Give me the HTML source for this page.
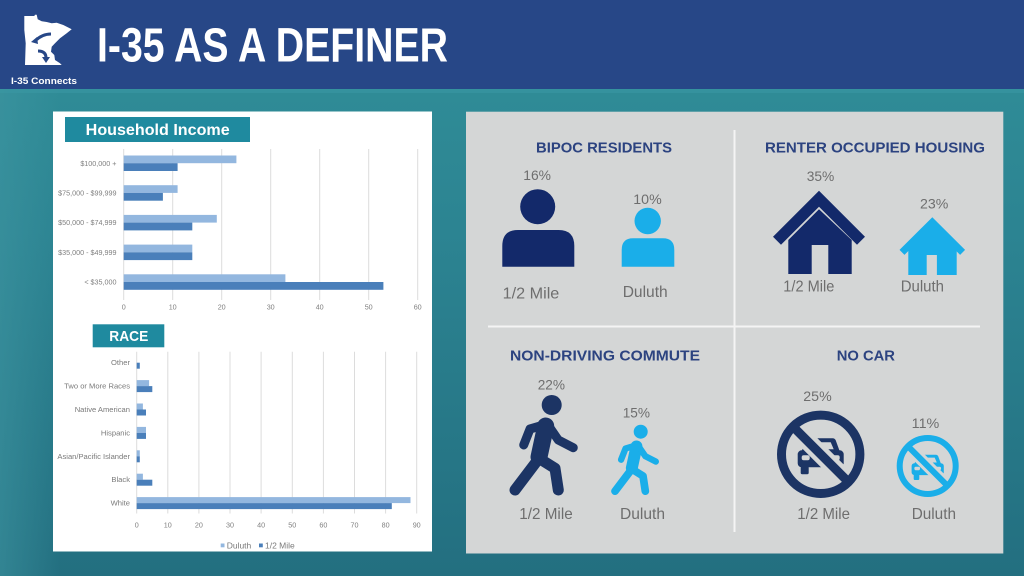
<!DOCTYPE html>
<html><head><meta charset="utf-8"><style>
html,body{margin:0;padding:0;width:1024px;height:576px;overflow:hidden;background:#2a8090}
svg{display:block}
text{font-family:"Liberation Sans",Arial,sans-serif}
</style></head><body>
<svg width="1024" height="576" viewBox="0 0 1024 576" xmlns="http://www.w3.org/2000/svg">
<defs>
<linearGradient id="bg" x1="0" y1="0" x2="0" y2="1">
<stop offset="0" stop-color="#319099"/><stop offset="0.4" stop-color="#2c8492"/><stop offset="1" stop-color="#236f80"/>
</linearGradient>
<linearGradient id="bgl" x1="0" y1="0" x2="1" y2="0">
<stop offset="0" stop-color="#3f96a2" stop-opacity="0.55"/><stop offset="1" stop-color="#3f96a2" stop-opacity="0"/>
</linearGradient>
</defs>
<rect x="0" y="0" width="1024" height="576" fill="url(#bg)"/>
<rect x="0" y="89" width="60" height="487" fill="url(#bgl)"/>
<rect x="0" y="89" width="1024" height="4" fill="#3b97a3" opacity="0.6"/>
<!-- header -->
<rect x="0" y="0" width="1024" height="89" fill="#274787"/>
<polygon fill="#fff" points="24.3,16 34.3,16 35,14.7 36.7,14.7 37.7,19.3 41.7,21.3 46.7,22 51.7,23.3 56.7,22.7 63.3,25 71.7,29.3 66.7,33.3 60,38.3 55,43.3 51.7,46.7 51,51.7 54.3,55 55,60 60,63.3 61.7,65 25,65 25.7,43.3 24.3,30"/>
<path d="M51,34 Q42,34 35,41" stroke="#274787" stroke-width="3" fill="none"/>
<polygon points="31,42 37,37 38,44" fill="#274787"/>
<path d="M38,51 Q46,51 46,58" stroke="#274787" stroke-width="3" fill="none"/>
<polygon points="46,63 42,57 50,57" fill="#274787"/>
<text x="11" y="84" font-size="9.5" font-weight="bold" fill="#fff" textLength="66" lengthAdjust="spacingAndGlyphs">I-35 Connects</text>
<text x="97" y="61.7" font-size="48" font-weight="bold" fill="#fff" textLength="351" lengthAdjust="spacingAndGlyphs">I-35 AS A DEFINER</text>

<!-- white panel -->
<rect x="53" y="111.5" width="379" height="440" fill="#fff"/>
<rect x="65" y="117" width="185" height="25" fill="#1f8a9f"/>
<text x="85.7" y="134.8" font-size="16" font-weight="bold" fill="#fff" textLength="144" lengthAdjust="spacingAndGlyphs">Household Income</text>
<g stroke="#dcdcdc" stroke-width="1">
<line x1="123.7" y1="149" x2="123.7" y2="300"/><line x1="172.7" y1="149" x2="172.7" y2="300"/><line x1="221.7" y1="149" x2="221.7" y2="300"/><line x1="270.7" y1="149" x2="270.7" y2="300"/><line x1="319.7" y1="149" x2="319.7" y2="300"/><line x1="368.7" y1="149" x2="368.7" y2="300"/><line x1="417.7" y1="149" x2="417.7" y2="300"/>
</g>
<g fill="#93b7df">
<rect x="123.7" y="155.5" width="112.7" height="7.7"/><rect x="123.7" y="185.2" width="53.9" height="7.7"/><rect x="123.7" y="214.9" width="93.1" height="7.7"/><rect x="123.7" y="244.6" width="68.6" height="7.7"/><rect x="123.7" y="274.3" width="161.7" height="7.7"/>
</g>
<g fill="#4a7fba">
<rect x="123.7" y="163.2" width="53.9" height="7.8"/><rect x="123.7" y="192.9" width="39.2" height="7.8"/><rect x="123.7" y="222.6" width="68.6" height="7.8"/><rect x="123.7" y="252.3" width="68.6" height="7.8"/><rect x="123.7" y="282" width="259.7" height="7.8"/>
</g>
<g font-size="7.2" fill="#808080" text-anchor="end">
<text x="116.5" y="165.8">$100,000 +</text><text x="116.5" y="195.5">$75,000 - $99,999</text><text x="116.5" y="225.2">$50,000 - $74,999</text><text x="116.5" y="254.9">$35,000 - $49,999</text><text x="116.5" y="284.6">&lt; $35,000</text>
</g>
<g font-size="7.2" fill="#808080" text-anchor="middle">
<text x="123.7" y="309.5">0</text><text x="172.7" y="309.5">10</text><text x="221.7" y="309.5">20</text><text x="270.7" y="309.5">30</text><text x="319.7" y="309.5">40</text><text x="368.7" y="309.5">50</text><text x="417.7" y="309.5">60</text>
</g>

<rect x="92.7" y="324.3" width="71.6" height="23" fill="#1f8a9f"/>
<text x="109.3" y="341" font-size="15" font-weight="bold" fill="#fff" textLength="39" lengthAdjust="spacingAndGlyphs">RACE</text>
<g stroke="#dcdcdc" stroke-width="1">
<line x1="136.7" y1="351.7" x2="136.7" y2="513.5"/><line x1="167.8" y1="351.7" x2="167.8" y2="513.5"/><line x1="198.9" y1="351.7" x2="198.9" y2="513.5"/><line x1="230" y1="351.7" x2="230" y2="513.5"/><line x1="261.1" y1="351.7" x2="261.1" y2="513.5"/><line x1="292.3" y1="351.7" x2="292.3" y2="513.5"/><line x1="323.4" y1="351.7" x2="323.4" y2="513.5"/><line x1="354.5" y1="351.7" x2="354.5" y2="513.5"/><line x1="385.6" y1="351.7" x2="385.6" y2="513.5"/><line x1="416.7" y1="351.7" x2="416.7" y2="513.5"/>
</g>
<g fill="#93b7df">
<rect x="136.7" y="380.1" width="12.4" height="6"/><rect x="136.7" y="403.5" width="6.2" height="6"/><rect x="136.7" y="426.9" width="9.3" height="6"/><rect x="136.7" y="450.3" width="3.1" height="6"/><rect x="136.7" y="473.7" width="6.2" height="6"/><rect x="136.7" y="497.1" width="273.8" height="6"/>
</g>
<g fill="#4a7fba">
<rect x="136.7" y="362.7" width="3.1" height="6"/><rect x="136.7" y="386.1" width="15.6" height="6"/><rect x="136.7" y="409.5" width="9.3" height="6"/><rect x="136.7" y="432.9" width="9.3" height="6"/><rect x="136.7" y="456.3" width="3.1" height="6"/><rect x="136.7" y="479.7" width="15.6" height="6"/><rect x="136.7" y="503.1" width="255.1" height="6"/>
</g>
<g font-size="7.6" fill="#7a7a7a" text-anchor="end">
<text x="130" y="365.2">Other</text><text x="130" y="388.6">Two or More Races</text><text x="130" y="412">Native American</text><text x="130" y="435.4">Hispanic</text><text x="130" y="458.8">Asian/Pacific Islander</text><text x="130" y="482.2">Black</text><text x="130" y="505.6">White</text>
</g>
<g font-size="7.2" fill="#808080" text-anchor="middle">
<text x="136.7" y="527.5">0</text><text x="167.8" y="527.5">10</text><text x="198.9" y="527.5">20</text><text x="230" y="527.5">30</text><text x="261.1" y="527.5">40</text><text x="292.3" y="527.5">50</text><text x="323.4" y="527.5">60</text><text x="354.5" y="527.5">70</text><text x="385.6" y="527.5">80</text><text x="416.7" y="527.5">90</text>
</g>
<rect x="220.7" y="543.5" width="3.8" height="3.8" fill="#93b7df"/>
<text x="226.7" y="548.3" font-size="8.5" fill="#7a7a7a">Duluth</text>
<rect x="259" y="543.5" width="3.8" height="3.8" fill="#4a7fba"/>
<text x="265" y="548.3" font-size="8.5" fill="#7a7a7a">1/2 Mile</text>

<!-- gray panel -->
<rect x="466" y="111.7" width="537.3" height="441.8" fill="#d4d6d6"/>
<line x1="734.5" y1="130" x2="734.5" y2="532" stroke="#f4f4f4" stroke-width="2"/>
<line x1="488" y1="326.5" x2="980" y2="326.5" stroke="#f4f4f4" stroke-width="2"/>

<g font-size="15" font-weight="bold" fill="#2c4380">
<text x="536" y="152.7" textLength="136" lengthAdjust="spacingAndGlyphs">BIPOC RESIDENTS</text>
<text x="765" y="152.7" textLength="220" lengthAdjust="spacingAndGlyphs">RENTER OCCUPIED HOUSING</text>
<text x="510" y="360.5" textLength="190" lengthAdjust="spacingAndGlyphs">NON-DRIVING COMMUTE</text>
<text x="836.7" y="360.5" textLength="58.3" lengthAdjust="spacingAndGlyphs">NO CAR</text>
</g>
<g font-size="14" fill="#6e6e6e">
<text x="523.3" y="180" textLength="27.7" lengthAdjust="spacingAndGlyphs">16%</text>
<text x="633.3" y="204" textLength="28.4" lengthAdjust="spacingAndGlyphs">10%</text>
<text x="806.7" y="181" textLength="27.6" lengthAdjust="spacingAndGlyphs">35%</text>
<text x="920" y="208.3" textLength="28.3" lengthAdjust="spacingAndGlyphs">23%</text>
<text x="537.7" y="389.3" textLength="27.3" lengthAdjust="spacingAndGlyphs">22%</text>
<text x="622.7" y="417.7" textLength="27.3" lengthAdjust="spacingAndGlyphs">15%</text>
<text x="803.3" y="401" textLength="28.4" lengthAdjust="spacingAndGlyphs">25%</text>
<text x="911.7" y="428" textLength="27.6" lengthAdjust="spacingAndGlyphs">11%</text>
</g>
<g font-size="16" fill="#6e6e6e">
<text x="502.7" y="298.3" textLength="56.6" lengthAdjust="spacingAndGlyphs">1/2 Mile</text>
<text x="622.7" y="297" textLength="45" lengthAdjust="spacingAndGlyphs">Duluth</text>
<text x="783.3" y="291.7" textLength="51" lengthAdjust="spacingAndGlyphs">1/2 Mile</text>
<text x="900.7" y="291.7" textLength="43.3" lengthAdjust="spacingAndGlyphs">Duluth</text>
<text x="519.3" y="519" textLength="53.4" lengthAdjust="spacingAndGlyphs">1/2 Mile</text>
<text x="620" y="519" textLength="45" lengthAdjust="spacingAndGlyphs">Duluth</text>
<text x="797.3" y="519" textLength="52.7" lengthAdjust="spacingAndGlyphs">1/2 Mile</text>
<text x="911.7" y="519" textLength="44.3" lengthAdjust="spacingAndGlyphs">Duluth</text>
</g>

<!-- persons -->
<circle cx="537.7" cy="206.7" r="17.5" fill="#13296a"/>
<path d="M502.3,266.7 V246 Q502.3,230 518,230 H558.6 Q574.3,230 574.3,246 V266.7 Z" fill="#13296a"/>
<circle cx="647.7" cy="221" r="13.2" fill="#1aaee9"/>
<path d="M621.7,266.7 V250 Q621.7,238.3 633,238.3 H663 Q674.3,238.3 674.3,250 V266.7 Z" fill="#1aaee9"/>

<!-- houses -->
<polyline points="777,240.7 819,198.7 861,240.7" fill="none" stroke="#13296a" stroke-width="11.3"/>
<path d="M819,209.3 L851.7,240 V274 H828.3 V245 H811.7 V274 H788.3 V240 Z" fill="#13296a"/>
<polyline points="902,252.4 932.3,222.2 962.6,252.4" fill="none" stroke="#1aaee9" stroke-width="7"/>
<path d="M932.5,225 L956.7,249.2 V275 H936.9 V255 H926.7 V275 H908.3 V249.2 Z" fill="#1aaee9"/>

<!-- walkers -->
<g transform="translate(551.7,405)" stroke="#1c3464" fill="none" stroke-linecap="round" stroke-linejoin="round">
<circle cx="0" cy="0" r="10" fill="#1c3464" stroke="none"/>
<line x1="-6" y1="21" x2="-12.7" y2="52" stroke-width="17"/>
<polyline points="-8,20 -21.7,24 -28,40" stroke-width="9"/>
<polyline points="-3,21 6.6,35 21.6,42.7" stroke-width="9"/>
<line x1="-12.7" y1="53.3" x2="-36.7" y2="85" stroke-width="11"/>
<polyline points="-12.7,53.3 3.3,63.3 6.6,85" stroke-width="11"/>
</g>
<g transform="translate(640.7,431.7) scale(0.7)" stroke="#1aaee9" fill="none" stroke-linecap="round" stroke-linejoin="round">
<circle cx="0" cy="0" r="10" fill="#1aaee9" stroke="none"/>
<line x1="-6" y1="21" x2="-12.7" y2="52" stroke-width="17"/>
<polyline points="-8,20 -21.7,24 -28,40" stroke-width="9"/>
<polyline points="-3,21 6.6,35 21.6,42.7" stroke-width="9"/>
<line x1="-12.7" y1="53.3" x2="-36.7" y2="85" stroke-width="11"/>
<polyline points="-12.7,53.3 3.3,63.3 6.6,85" stroke-width="11"/>
</g>

<!-- no car -->
<g transform="translate(820.7,454.3)">
<path d="M-12,-16 H12 Q14,-16 15,-14 L19,-3 H-19 L-15,-14 Q-14,-16 -12,-16 Z" fill="#1c3464"/>
<path d="M-10,-12 H10 L13,-5 H-13 Z" fill="#d4d6d6"/>
<rect x="-23" y="-4" width="46" height="17" rx="4" fill="#1c3464"/>
<rect x="-19" y="1" width="8" height="5" rx="2" fill="#d4d6d6"/>
<rect x="11" y="1" width="8" height="5" rx="2" fill="#d4d6d6"/>
<rect x="-20" y="12" width="8" height="8" rx="1.5" fill="#1c3464"/>
<rect x="12" y="12" width="8" height="8" rx="1.5" fill="#1c3464"/>
<line x1="-25" y1="-25" x2="25" y2="25" stroke="#d4d6d6" stroke-width="18"/>
<circle cx="0" cy="0" r="39.2" fill="none" stroke="#1c3464" stroke-width="9"/>
<line x1="-28" y1="-28" x2="28" y2="28" stroke="#1c3464" stroke-width="9"/>
</g>
<g transform="translate(927.7,466)">
<g transform="scale(0.7)">
<path d="M-12,-16 H12 Q14,-16 15,-14 L19,-3 H-19 L-15,-14 Q-14,-16 -12,-16 Z" fill="#1aaee9"/>
<path d="M-10,-12 H10 L13,-5 H-13 Z" fill="#d4d6d6"/>
<rect x="-23" y="-4" width="46" height="17" rx="4" fill="#1aaee9"/>
<rect x="-19" y="1" width="8" height="5" rx="2" fill="#d4d6d6"/>
<rect x="11" y="1" width="8" height="5" rx="2" fill="#d4d6d6"/>
<rect x="-20" y="12" width="8" height="8" rx="1.5" fill="#1aaee9"/>
<rect x="12" y="12" width="8" height="8" rx="1.5" fill="#1aaee9"/>
</g>
<line x1="-18" y1="-18" x2="18" y2="18" stroke="#d4d6d6" stroke-width="12"/>
<circle cx="0" cy="0" r="28" fill="none" stroke="#1aaee9" stroke-width="6"/>
<line x1="-20" y1="-20" x2="20" y2="20" stroke="#1aaee9" stroke-width="6"/>
</g>
</svg>
</body></html>
